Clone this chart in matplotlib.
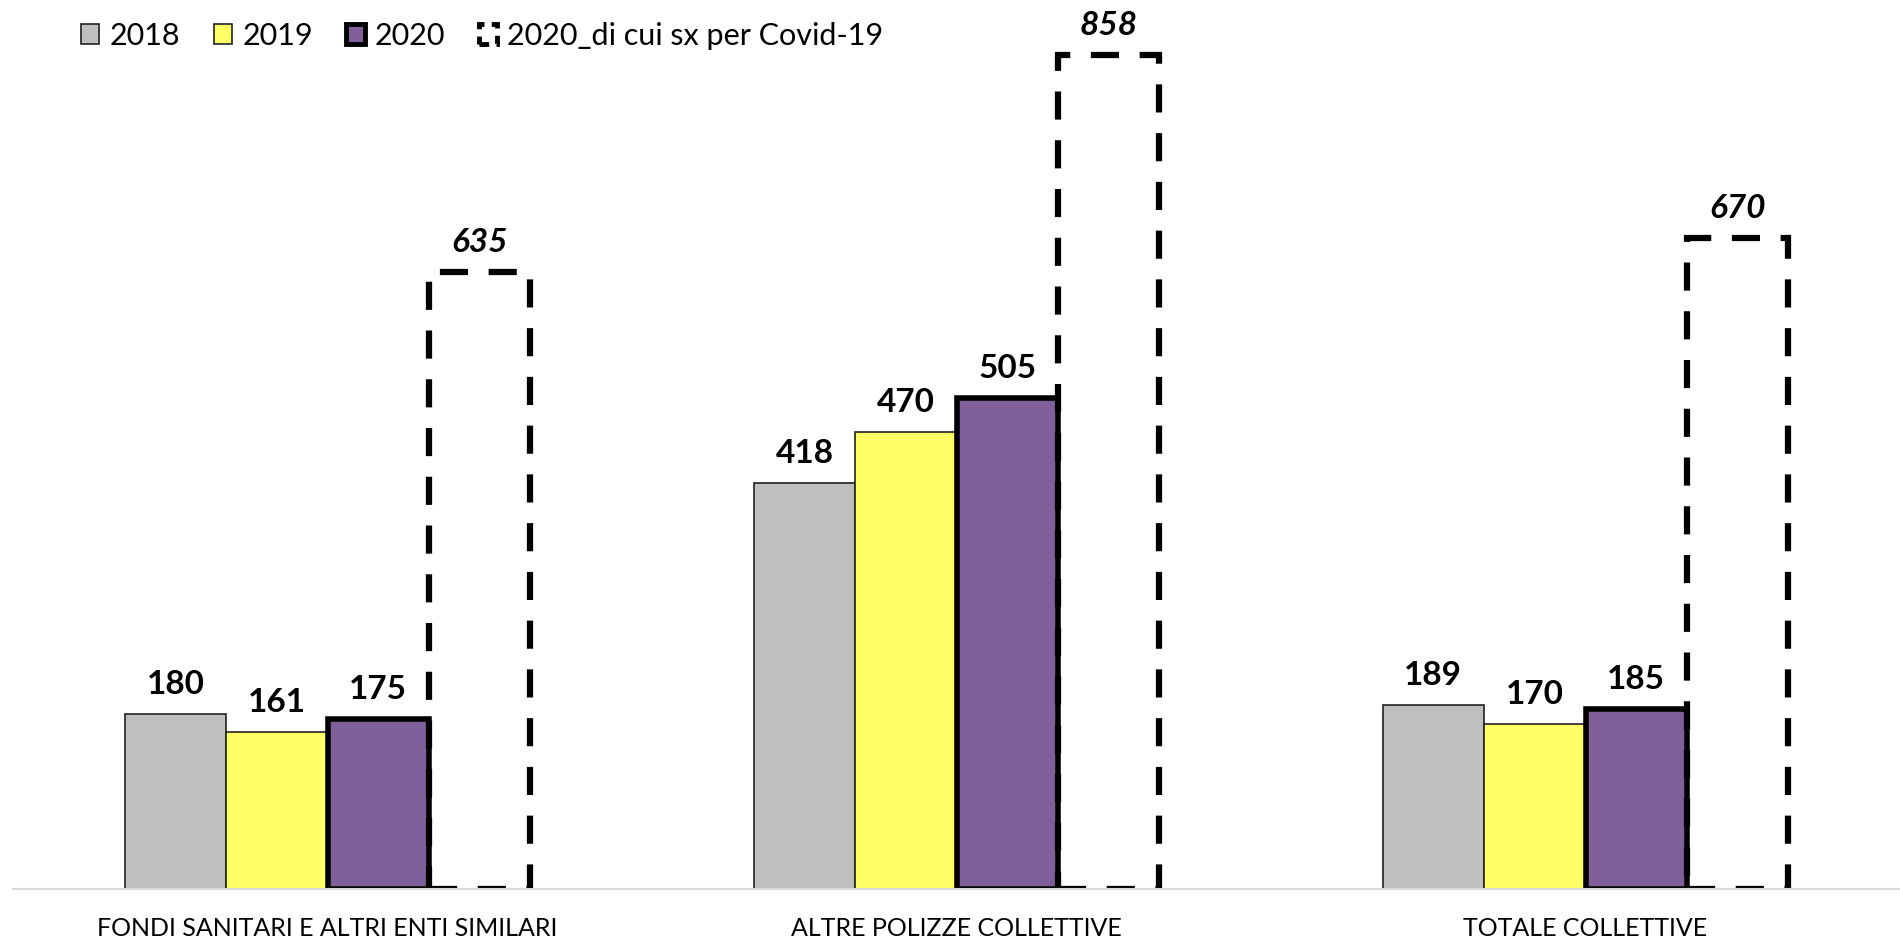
import matplotlib
matplotlib.use("Agg")
import matplotlib.pyplot as plt
from matplotlib.patches import Patch
import numpy as np

plt.rcParams['font.family'] = ['Lato', 'DejaVu Sans']

categories = ["FONDI SANITARI E ALTRI ENTI SIMILARI", "ALTRE POLIZZE COLLETTIVE", "TOTALE COLLETTIVE"]
series_names = ["2018", "2019", "2020", "2020_di cui sx per Covid-19"]
v2018 = [180, 418, 189]
v2019 = [161, 470, 170]
v2020 = [175, 505, 185]
vcovid = [635, 858, 670]

fig = plt.figure(figsize=(19.0, 9.43), dpi=100)
ax = fig.add_axes([0.0069, 0.0575, 0.9931, 0.9425])

x = np.arange(len(categories))
w = 0.1613
offs = [-1.5 * w, -0.5 * w, 0.5 * w, 1.5 * w]

b1 = ax.bar(x + offs[0], v2018, w, color="#BFBFBF", edgecolor="#222222", linewidth=1.2)
b2 = ax.bar(x + offs[1], v2019, w, color="#FFFF66", edgecolor="#222222", linewidth=1.2)
b3 = ax.bar(x + offs[2], v2020, w, color="#7F609A", edgecolor="black", linewidth=4)
b4 = ax.bar(x + offs[3], vcovid, w, color="none", edgecolor="black", linewidth=4.5,
            linestyle=(0, (4.5, 3.3)))

for bars, vals in [(b1, v2018), (b2, v2019), (b3, v2020)]:
    for rect, v in zip(bars, vals):
        ax.annotate(f"{v}", (rect.get_x() + rect.get_width() / 2, v), xytext=(0, 15),
                    textcoords="offset pixels", ha="center", va="bottom",
                    fontsize=24, fontweight="bold")
for rect, v in zip(b4, vcovid):
    ax.annotate(f"{v}", (rect.get_x() + rect.get_width() / 2, v), xytext=(0, 15),
                textcoords="offset pixels", ha="center", va="bottom",
                fontsize=24, fontweight="bold", fontstyle="italic")

ax.set_xlim(-0.5, 2.5)
ax.set_ylim(0, 915)
ax.set_xticks(x)
ax.set_xticklabels(categories, fontsize=18)
ax.tick_params(axis="x", length=0, pad=20)
ax.set_yticks([])
for s in ["top", "right", "left"]:
    ax.spines[s].set_visible(False)
ax.spines["bottom"].set_color("#D9D9D9")
ax.spines["bottom"].set_linewidth(1.5)

handles = [
    Patch(facecolor="#BFBFBF", edgecolor="#222222", linewidth=1.2),
    Patch(facecolor="#FFFF66", edgecolor="#222222", linewidth=1.2),
    Patch(facecolor="#7F609A", edgecolor="black", linewidth=3.5),
    Patch(facecolor="none", edgecolor="black", linewidth=3.5, linestyle=(0, (2.0, 1.5))),
]
fig.legend(handles, series_names, loc="center left", bbox_to_anchor=(0.0427, 0.962), ncol=4,
           frameon=False, fontsize=22, handlelength=0.6, handleheight=0.6,
           handletextpad=0.33, columnspacing=1.1, borderaxespad=0, borderpad=0)

fig.savefig("out.png", dpi=100)
